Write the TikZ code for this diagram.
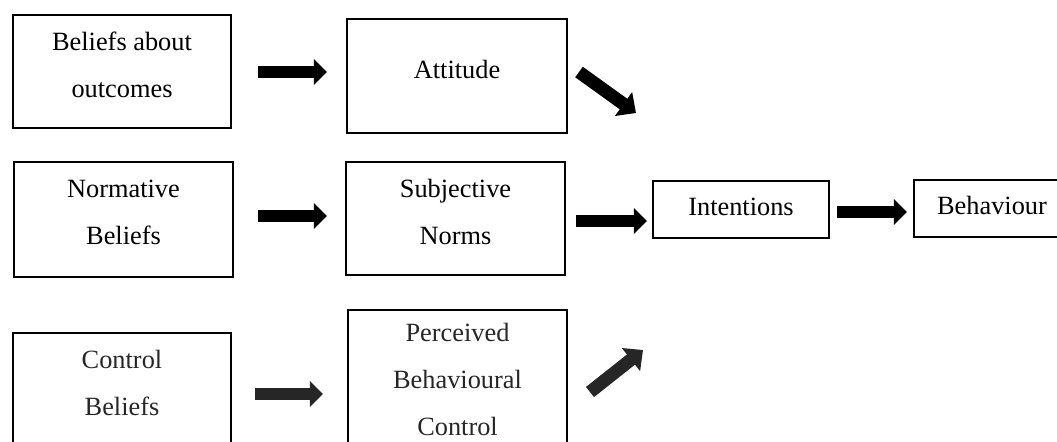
\documentclass[tikz,border=0pt]{standalone}
\usepackage{fontspec}
\setmainfont{Liberation Serif}
\usetikzlibrary{arrows.meta}
\tikzset{
  box/.style={draw, line width=0.9pt, align=center, inner sep=0pt,
    minimum width=3.5cm, minimum height=1.82cm, text depth=6.4pt,
    font=\fontsize{12pt}{21.4pt}\selectfont},
  smallbox/.style={box, minimum height=0.92cm, text depth=2.5pt},
  fat/.style={line width=5.9pt, -{Triangle[width=11.5pt, length=6pt]}},
  fatdiag/.style={fat, -{Triangle[width=13pt, length=7pt]}}
}

\begin{document}
\begin{tikzpicture}[x=0.016cm, y=-0.016cm]
        \useasboundingbox (0,0) rectangle (1057,441);
        \clip (0,0) rectangle (1057,441);
        \node[box] (bao) at (122, 71.5) {Beliefs about\\outcomes};
        \node[box, minimum width=3.52cm] (att) at (457, 76) {Attitude};
        \node[box, minimum height=1.84cm] (nb) at (123.5, 219.5) {Normative\\Beliefs};
        \node[box] (sn) at (455.5, 218.5) {Subjective\\Norms};
        \node[smallbox, minimum width=2.82cm] (int) at (741, 209.5) {Intentions};
        \node[smallbox, minimum width=2.5cm] (beh) at (992, 208.5) {Behaviour};
        \node[box, text=black!85] (cb) at (122, 389.5) {Control\\Beliefs};
        \node[box, minimum height=2.43cm, text=black!85] (pbc) at (457.5, 386)
          {Perceived\\Behavioural\\Control};
        \coordinate (a1s) at (258, 72);
        \coordinate (a1e) at (327, 72);
        \coordinate (a2s) at (579, 72);
        \coordinate (a2e) at (636, 113);
        \coordinate (a3s) at (258, 216);
        \coordinate (a3e) at (327, 216);
        \coordinate (a4s) at (576, 221);
        \coordinate (a4e) at (647, 221);
        \coordinate (a5s) at (837, 212);
        \coordinate (a5e) at (907, 212);
        \coordinate (a6s) at (255, 394);
        \coordinate (a6e) at (323, 394);
        \coordinate (a7s) at (590, 392);
        \coordinate (a7e) at (643, 350);
        \draw[fat] (a1s) -- (a1e);
        \draw[fatdiag] (a2s) -- (a2e);
        \draw[fat] (a3s) -- (a3e);
        \draw[fat] (a4s) -- (a4e);
        \draw[fat] (a5s) -- (a5e);
        \draw[fat, black!85] (a6s) -- (a6e);
        \draw[fatdiag, black!85] (a7s) -- (a7e);
      \end{tikzpicture}
\end{document}
